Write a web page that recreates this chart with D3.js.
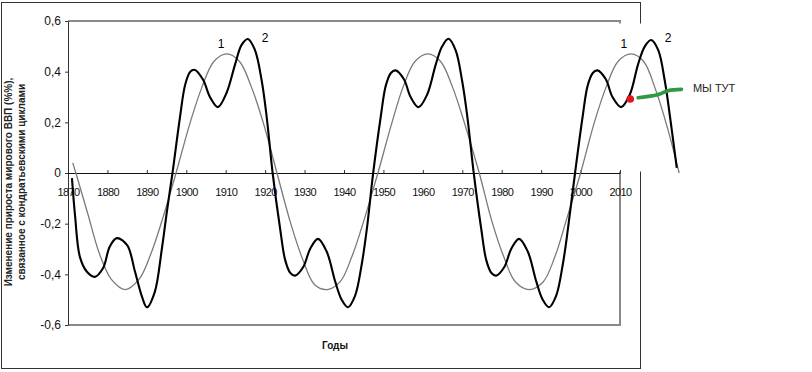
<!DOCTYPE html>
<head>
  <meta charset="utf-8">
  <script src="https://d3js.org/d3.v7.min.js"></script>
  <style>
    body { margin:0; background:#fff; }
    svg { display:block; }
    text { font-family: "Liberation Sans", Arial, sans-serif; }
  </style>
</head>
<body>
<script>
// values
var xTicks = [1870, 1880, 1890, 1900, 1910, 1920, 1930, 1940, 1950, 1960, 1970, 1980, 1990, 2000, 2010];
var yTicks = [-0.6, -0.4, -0.2, 0, 0.2, 0.4, 0.6];

// curve 2 (black, double hump)
var blackYears = [1871.0, 1871.8, 1873.0, 1874.8, 1876.8, 1878.9, 1880.6, 1882.4, 1885.0, 1887.0, 1888.8, 1890.0, 1892.0, 1893.8, 1895.1, 1896.5,
  1898.4, 1899.7, 1901.0, 1902.2, 1904.3, 1906.0, 1908.0, 1910.2, 1912.4, 1914.0, 1915.6, 1917.4, 1919.1, 1920.4, 1921.9,
  1923.8, 1925.1, 1926.4, 1927.6, 1929.7, 1931.4, 1933.4, 1935.6, 1937.8, 1939.4, 1941.0, 1942.8, 1944.5, 1945.8, 1947.4,
  1949.3, 1950.6, 1951.9, 1953.1, 1955.2, 1956.9, 1958.9, 1961.1, 1963.3, 1964.9, 1966.5, 1968.3, 1970.0, 1971.3, 1972.9,
  1974.8, 1976.1, 1977.4, 1978.6, 1980.7, 1982.4, 1984.4, 1986.6, 1988.8, 1990.4, 1992.0, 1993.8, 1995.5, 1996.8, 1998.6,
  2000.5, 2001.8, 2003.1, 2004.3, 2006.4, 2008.1, 2010.3, 2012.5, 2014.6, 2016.3, 2017.9, 2019.7, 2021.4, 2022.7, 2024.4];
var blackValues = [-0.02, -0.17, -0.33, -0.39, -0.41, -0.375, -0.29, -0.257, -0.285, -0.39, -0.49, -0.53, -0.47, -0.30, -0.15, 0,
  0.22, 0.347, 0.40, 0.407, 0.367, 0.30, 0.26, 0.316, 0.43, 0.505, 0.529, 0.486, 0.367, 0.22, 0,
  -0.22, -0.345, -0.395, -0.405, -0.37, -0.30, -0.26, -0.31, -0.43, -0.50, -0.53, -0.485, -0.36, -0.22, 0,
  0.22, 0.345, 0.395, 0.405, 0.37, 0.30, 0.26, 0.31, 0.43, 0.50, 0.53, 0.485, 0.36, 0.22, 0,
  -0.22, -0.345, -0.395, -0.405, -0.37, -0.30, -0.26, -0.31, -0.43, -0.50, -0.53, -0.485, -0.36, -0.22, 0,
  0.22, 0.345, 0.395, 0.405, 0.37, 0.30, 0.26, 0.31, 0.43, 0.50, 0.525, 0.485, 0.36, 0.22, 0.02];

// curve 1 (grey, single wave)
var grayYears = [1871.2, 1872, 1875, 1878, 1881, 1884.5, 1888, 1891, 1894, 1897.4, 1901, 1904, 1907, 1910.3, 1913.5, 1916.5, 1919.5, 1923,
  1926.5, 1929.5, 1932.5, 1935.7, 1939, 1942, 1945, 1948.6, 1952, 1955, 1958, 1961.3, 1964.5, 1967.5, 1970.5, 1974.3,
  1977.5, 1980.5, 1983.5, 1987, 1990.5, 1993.5, 1996.5, 2000, 2003.5, 2006.5, 2009.5, 2012.8, 2016, 2019, 2022, 2025];
var grayValues = [0.04, 0.0, -0.16, -0.32, -0.42, -0.46, -0.42, -0.32, -0.18, 0, 0.20, 0.34, 0.44, 0.47, 0.44, 0.34, 0.20, 0,
  -0.20, -0.34, -0.44, -0.46, -0.43, -0.33, -0.19, 0, 0.19, 0.34, 0.44, 0.47, 0.44, 0.34, 0.20, 0,
  -0.19, -0.33, -0.43, -0.46, -0.43, -0.33, -0.18, 0, 0.20, 0.34, 0.44, 0.47, 0.44, 0.33, 0.18, 0.0];

// curve labels and the "we are here" note
var curveLabels = [["1", 1908.8, 0.509], ["2", 1920.0, 0.533], ["1", 2011.0, 0.509], ["2", 2022.2, 0.533]];
var herePoint = [2012.6, 0.292];
var arrowYears = [2014.6, 2019.3, 2020.1, 2022.2, 2025.6];
var arrowValues = [0.297, 0.308, 0.312, 0.325, 0.330];
var hereText = ["МЫ ТУТ", 2028.5, 0.318];

var width = 812, height = 372;
var svg = d3.select("body").append("svg").attr("width", width).attr("height", height);

var x = d3.scaleLinear().domain([1870, 2010]).range([68, 620]);
var y = d3.scaleLinear().domain([-0.6, 0.6]).range([325, 21]);

// outer chart frame
svg.append("rect").attr("x", 1.5).attr("y", 2.5).attr("width", 639).attr("height", 366)
  .attr("fill", "none").attr("stroke", "#333").attr("stroke-width", 1);

// plot area border
svg.append("path")
  .attr("d", "M" + x(1870) + "," + y(0.6) + "H" + x(2010) + "V" + y(-0.6) + "H" + x(1870))
  .attr("fill", "none").attr("stroke", "#8a8a8a").attr("stroke-width", 2);

// pasted piece on the right covers the frame
svg.append("rect").attr("x", x(2010) - 1).attr("y", 23.5).attr("width", width).attr("height", 148)
  .attr("fill", "#fff");

// y axis
var yAxis = svg.append("g").attr("transform", "translate(" + x(1870) + ",0)")
  .call(d3.axisLeft(y).tickValues(yTicks).tickSize(3).tickSizeOuter(0).tickPadding(4)
    .tickFormat(function(d) { return String(d).replace(".", ","); }));
yAxis.select(".domain").attr("stroke", "#333");
yAxis.selectAll(".tick line").attr("stroke", "#333");
yAxis.selectAll("text").attr("font-size", 12).attr("fill", "#111")
  .attr("font-family", "Liberation Sans, Arial, sans-serif");

// x axis on the zero line
var xAxis = svg.append("g").attr("transform", "translate(0," + y(0) + ")")
  .call(d3.axisBottom(x).tickValues(xTicks).tickSize(-3).tickSizeOuter(0).tickPadding(15)
    .tickFormat(d3.format("d")));
xAxis.select(".domain").attr("stroke", "#111");
xAxis.selectAll(".tick line").attr("stroke", "#333");
xAxis.selectAll("text").attr("font-size", 11).attr("fill", "#111").attr("letter-spacing", "-0.6px")
  .attr("font-family", "Liberation Sans, Arial, sans-serif");

var line = d3.line()
  .x(function(d) { return x(d[0]); })
  .y(function(d) { return y(d[1]); })
  .curve(d3.curveCatmullRom.alpha(0.5));

svg.append("path").datum(d3.zip(grayYears, grayValues))
  .attr("d", line).attr("fill", "none").attr("stroke", "#7a7a7a").attr("stroke-width", 1.3);

svg.append("path").datum(d3.zip(blackYears, blackValues))
  .attr("d", line).attr("fill", "none").attr("stroke", "#000").attr("stroke-width", 2.1);

svg.selectAll(".clabel").data(curveLabels).enter().append("text")
  .attr("class", "clabel")
  .attr("x", function(d) { return x(d[1]); })
  .attr("y", function(d) { return y(d[2]); })
  .attr("text-anchor", "middle").attr("dominant-baseline", "central")
  .attr("font-size", 12).attr("fill", "#000")
  .text(function(d) { return d[0]; });

// green hand-drawn stroke and red dot
svg.append("path").datum(d3.zip(arrowYears, arrowValues))
  .attr("d", line).attr("fill", "none").attr("stroke", "#2f9a46").attr("stroke-width", 3.6)
  .attr("stroke-linecap", "round");

svg.append("circle").attr("cx", x(herePoint[0])).attr("cy", y(herePoint[1])).attr("r", 3.8)
  .attr("fill", "#e3151d");

svg.append("text").attr("x", x(hereText[1])).attr("y", y(hereText[2]))
  .attr("font-size", 11).attr("fill", "#222").text(hereText[0]);

// axis titles
var yTitle = svg.append("g").attr("transform", "translate(0,182) rotate(-90)");
yTitle.append("text").attr("x", 0).attr("y", 12).attr("text-anchor", "middle")
  .attr("font-size", 10).attr("font-weight", "bold").attr("fill", "#222")
  .text("Изменение прироста мирового ВВП (%%),");
yTitle.append("text").attr("x", 0).attr("y", 25).attr("text-anchor", "middle")
  .attr("font-size", 10).attr("font-weight", "bold").attr("fill", "#222")
  .text("связанное с кондратьевскими циклами");

svg.append("text").attr("x", 335).attr("y", 349).attr("text-anchor", "middle")
  .attr("font-size", 10).attr("font-weight", "bold").attr("fill", "#111")
  .text("Годы");
</script>
</body>
